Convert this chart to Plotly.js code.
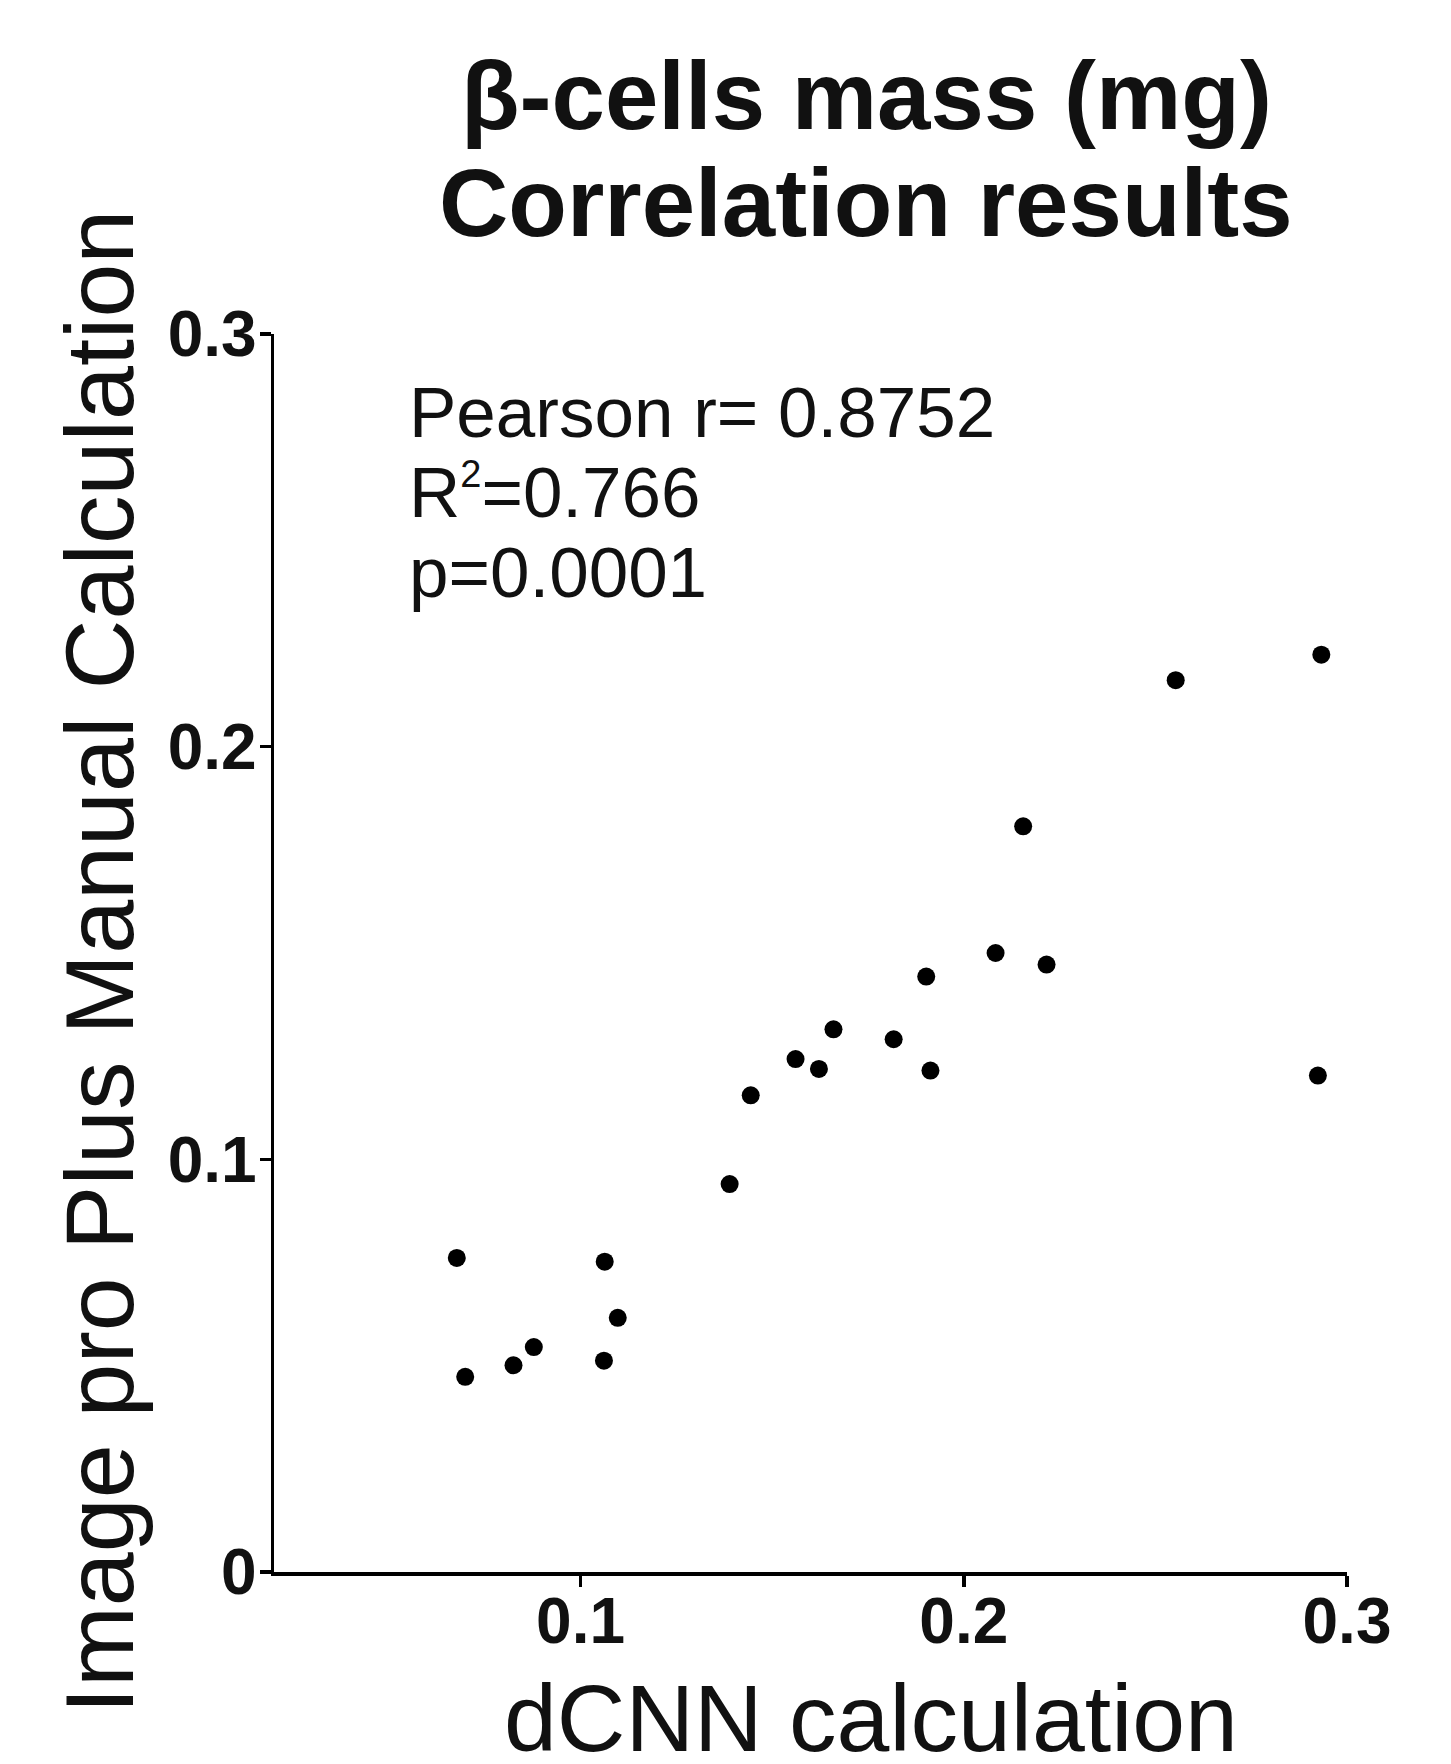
<!DOCTYPE html>
<html>
<head>
<meta charset="utf-8">
<script src="https://cdn.plot.ly/plotly-3.0.1.min.js"></script>
<style>html,body{margin:0;padding:0;background:#fff;}#chart{width:1451px;height:1764px;}</style>
</head>
<body>
<div id="chart"></div>
<script>
// Data
const dcnnValues = [0.0677, 0.0699, 0.0825, 0.0878, 0.1063, 0.1097, 0.1061,
                    0.1389, 0.1444, 0.1561, 0.1622, 0.1660, 0.1817, 0.1913,
                    0.1902, 0.2083, 0.2155, 0.2216, 0.2553, 0.2933, 0.2924];
const manualValues = [0.0761, 0.0473, 0.0501, 0.0545, 0.0752, 0.0616, 0.0512,
                      0.0940, 0.1155, 0.1243, 0.1219, 0.1315, 0.1291, 0.1215,
                      0.1443, 0.1500, 0.1807, 0.1472, 0.2161, 0.2223, 0.1203];
const xTickValues = [0.1, 0.2, 0.3];
const xTickLabels = ['0.1', '0.2', '0.3'];
const yTickValues = [0, 0.1, 0.2, 0.3];
const yTickLabels = ['0', '0.1', '0.2', '0.3'];
const titleLines = ['β-cells mass (mg)', 'Correlation results'];
const statsLines = ['Pearson r= 0.8752', 'R<sup><span style="font-size:38px">2</span></sup>=0.766', 'p=0.0001'];
const xAxisTitle = 'dCNN calculation';
const yAxisTitle = 'Image pro Plus Manual Calculation';

const W = 1451, H = 1764;
const M = {l: 274, r: 104, t: 334, b: 192};
const PW = W - M.l - M.r, PH = H - M.t - M.b;
const px2x = p => (p - M.l) / PW;
const py2y = p => (H - M.b - p) / PH;

const FONT = '"Liberation Sans", Arial, sans-serif';
const INK = '#111111';

const trace = {
  x: dcnnValues, y: manualValues, type: 'scatter', mode: 'markers',
  marker: {size: 18, color: '#000000', line: {width: 0}},
  cliponaxis: false, hoverinfo: 'skip'
};

function ann(text, px, py, size, bold, opts) {
  return Object.assign({
    text: bold ? '<b>' + text + '</b>' : text,
    xref: 'paper', yref: 'paper', x: px2x(px), y: py2y(py),
    showarrow: false, font: {family: FONT, size: size, color: INK},
    xanchor: 'center', yanchor: 'middle', borderpad: 0
  }, opts || {});
}

const annotations = [
  ann(titleLines[0], 866, 129 - 0.3465 * 96, 96, true),
  ann(titleLines[1], 866, 236 - 0.3465 * 96, 96, true),
  ann(statsLines[0], 408, 438 + 0.212 * 71, 71, false, {xanchor: 'left', yanchor: 'bottom'}),
  ann(statsLines[1], 408, 518 + 0.212 * 71, 71, false, {xanchor: 'left', yanchor: 'bottom'}),
  ann(statsLines[2], 408, 598 + 0.212 * 71, 71, false, {xanchor: 'left', yanchor: 'bottom'}),
  ann(xAxisTitle, 871, 1751 - 0.3465 * 95, 95, false),
  ann(yAxisTitle, 99, 962, 97, false, {textangle: -90})
];

const axisCommon = {
  showgrid: false, zeroline: false, showline: true, linecolor: '#000000', linewidth: 3.5,
  ticks: 'outside', ticklen: 11, tickwidth: 3.5, tickcolor: '#000000',
  tickfont: {family: FONT, size: 64, color: INK, weight: 'bold'},
  tickmode: 'array', fixedrange: true
};

const layout = {
  width: W, height: H, margin: M, paper_bgcolor: '#ffffff', plot_bgcolor: '#ffffff',
  showlegend: false,
  xaxis: Object.assign({}, axisCommon, {range: [0.02, 0.3], tickvals: xTickValues,
    ticktext: xTickLabels.map(t => '<b>' + t + '</b>'), ticklabelstandoff: -20}),
  yaxis: Object.assign({}, axisCommon, {range: [0, 0.3], tickvals: yTickValues,
    ticktext: yTickLabels.map(t => '<b>' + t + '</b>'), ticklabelstandoff: -10}),
  annotations: annotations
};

Plotly.newPlot('chart', [trace], layout, {displayModeBar: false, staticPlot: true});
</script>
</body>
</html>
